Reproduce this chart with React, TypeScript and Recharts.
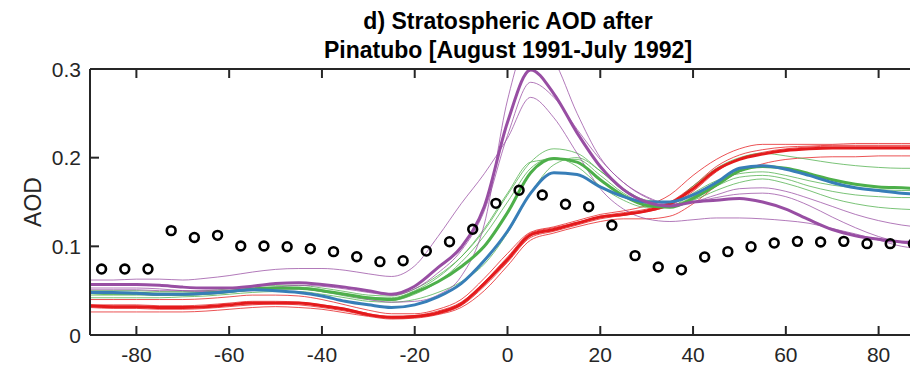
import React from "react"
import { ComposedChart, Line, Scatter, XAxis, YAxis } from "recharts"

// latitude grid of the model curves (deg)
const lats = [-90, -85, -80, -75, -70, -65, -60, -55, -50, -45, -40, -35, -30, -25, -20, -15, -10, -5, 0, 5, 10, 15, 20, 25, 30, 35, 40, 45, 50, 55, 60, 65, 70, 75, 80, 85, 90]

// thick (mean) curves
const purpleMean = [0.057, 0.057, 0.057, 0.056, 0.054, 0.053, 0.053, 0.055, 0.058, 0.059, 0.057, 0.054, 0.05, 0.046, 0.055, 0.076, 0.099, 0.145, 0.24, 0.299, 0.272, 0.228, 0.19, 0.164, 0.15, 0.1455, 0.15, 0.152, 0.154, 0.15, 0.142, 0.13, 0.119, 0.112, 0.108, 0.105, 0.104]
const greenMean = [0.048, 0.047, 0.047, 0.046, 0.046, 0.047, 0.049, 0.052, 0.053, 0.0527, 0.05, 0.046, 0.042, 0.04, 0.048, 0.06, 0.077, 0.1, 0.138, 0.183, 0.199, 0.195, 0.175, 0.157, 0.146, 0.144, 0.154, 0.169, 0.185, 0.19, 0.188, 0.182, 0.175, 0.17, 0.167, 0.166, 0.165]
const blueMean = [0.048, 0.048, 0.047, 0.046, 0.046, 0.047, 0.049, 0.051, 0.05, 0.048, 0.044, 0.038, 0.034, 0.031, 0.034, 0.043, 0.058, 0.084, 0.117, 0.16, 0.183, 0.181, 0.167, 0.156, 0.15, 0.15, 0.158, 0.172, 0.188, 0.191, 0.187, 0.18, 0.172, 0.166, 0.163, 0.16, 0.158]
const redMean = [0.033, 0.032, 0.032, 0.031, 0.031, 0.032, 0.034, 0.036, 0.036, 0.036, 0.033, 0.029, 0.023, 0.02, 0.021, 0.025, 0.035, 0.058, 0.085, 0.113, 0.119, 0.126, 0.133, 0.136, 0.14, 0.148, 0.165, 0.186, 0.198, 0.204, 0.208, 0.21, 0.211, 0.211, 0.211, 0.211, 0.211]

// thin (member) curves
const purpleA = [0.062, 0.062, 0.063, 0.063, 0.062, 0.064, 0.067, 0.071, 0.074, 0.075, 0.075, 0.073, 0.069, 0.066, 0.078, 0.111, 0.148, 0.182, 0.222, 0.268, 0.245, 0.205, 0.165, 0.142, 0.131, 0.128, 0.13, 0.132, 0.132, 0.131, 0.129, 0.126, 0.12, 0.114, 0.107, 0.1, 0.097]
const purpleB = [0.053, 0.053, 0.053, 0.052, 0.05, 0.049, 0.049, 0.05, 0.052, 0.052, 0.049, 0.045, 0.04, 0.037, 0.038, 0.045, 0.066, 0.125, 0.265, 0.335, 0.31, 0.25, 0.2, 0.172, 0.155, 0.147, 0.15, 0.158, 0.165, 0.166, 0.162, 0.154, 0.145, 0.136, 0.129, 0.124, 0.121]
const purpleC = [0.051, 0.051, 0.051, 0.05, 0.05, 0.05, 0.05, 0.052, 0.054, 0.056, 0.055, 0.052, 0.048, 0.045, 0.052, 0.07, 0.095, 0.14, 0.225, 0.285, 0.268, 0.232, 0.198, 0.172, 0.156, 0.148, 0.15, 0.155, 0.159, 0.16, 0.156, 0.146, 0.133, 0.121, 0.111, 0.104, 0.1]
const greenA = [0.05, 0.05, 0.05, 0.049, 0.049, 0.05, 0.052, 0.055, 0.056, 0.056, 0.053, 0.049, 0.045, 0.044, 0.052, 0.067, 0.088, 0.118, 0.158, 0.195, 0.21, 0.205, 0.185, 0.165, 0.152, 0.15, 0.168, 0.188, 0.2, 0.205, 0.202, 0.198, 0.194, 0.191, 0.189, 0.188, 0.188]
const greenB = [0.045, 0.045, 0.045, 0.045, 0.045, 0.046, 0.048, 0.051, 0.052, 0.052, 0.049, 0.044, 0.04, 0.039, 0.046, 0.06, 0.082, 0.112, 0.15, 0.188, 0.2, 0.19, 0.168, 0.152, 0.144, 0.145, 0.16, 0.174, 0.182, 0.184, 0.18, 0.174, 0.169, 0.166, 0.164, 0.163, 0.163]
const greenC = [0.042, 0.042, 0.042, 0.042, 0.043, 0.044, 0.046, 0.048, 0.049, 0.049, 0.046, 0.042, 0.038, 0.037, 0.04, 0.048, 0.06, 0.08, 0.115, 0.16, 0.192, 0.2, 0.185, 0.163, 0.15, 0.146, 0.152, 0.163, 0.172, 0.176, 0.171, 0.163, 0.154, 0.148, 0.144, 0.142, 0.141]
const greenD = [0.047, 0.047, 0.047, 0.047, 0.047, 0.048, 0.05, 0.053, 0.054, 0.054, 0.051, 0.046, 0.042, 0.042, 0.05, 0.065, 0.088, 0.12, 0.16, 0.195, 0.198, 0.198, 0.18, 0.16, 0.148, 0.146, 0.156, 0.168, 0.178, 0.18, 0.176, 0.168, 0.162, 0.158, 0.156, 0.155, 0.155]
const redA = [0.04, 0.04, 0.04, 0.04, 0.04, 0.041, 0.043, 0.045, 0.045, 0.044, 0.04, 0.034, 0.028, 0.024, 0.024, 0.029, 0.04, 0.064, 0.092, 0.116, 0.122, 0.129, 0.136, 0.14, 0.146, 0.158, 0.18, 0.198, 0.21, 0.215, 0.215, 0.215, 0.215, 0.216, 0.216, 0.216, 0.216]
const redB = [0.031, 0.03, 0.03, 0.029, 0.029, 0.03, 0.032, 0.034, 0.035, 0.034, 0.031, 0.027, 0.022, 0.019, 0.02, 0.024, 0.033, 0.055, 0.082, 0.11, 0.117, 0.124, 0.131, 0.135, 0.139, 0.146, 0.162, 0.184, 0.199, 0.206, 0.21, 0.212, 0.213, 0.213, 0.213, 0.213, 0.213]
const redC = [0.026, 0.026, 0.026, 0.026, 0.026, 0.027, 0.029, 0.031, 0.032, 0.031, 0.029, 0.025, 0.021, 0.018, 0.019, 0.023, 0.031, 0.05, 0.078, 0.107, 0.115, 0.122, 0.128, 0.131, 0.131, 0.134, 0.148, 0.168, 0.184, 0.193, 0.198, 0.2, 0.201, 0.201, 0.202, 0.202, 0.202]
const redD = [0.034, 0.034, 0.034, 0.033, 0.033, 0.034, 0.036, 0.038, 0.038, 0.037, 0.034, 0.03, 0.024, 0.021, 0.022, 0.027, 0.037, 0.06, 0.088, 0.115, 0.121, 0.127, 0.134, 0.138, 0.142, 0.15, 0.168, 0.19, 0.203, 0.209, 0.212, 0.213, 0.214, 0.214, 0.214, 0.214, 0.214]

// observations (open circles)
const obsLats = [-87.5, -82.5, -77.5, -72.5, -67.5, -62.5, -57.5, -52.5, -47.5, -42.5, -37.5, -32.5, -27.5, -22.5, -17.5, -12.5, -7.5, -2.5, 2.5, 7.5, 12.5, 17.5, 22.5, 27.5, 32.5, 37.5, 42.5, 47.5, 52.5, 57.5, 62.5, 67.5, 72.5, 77.5, 82.5, 87.5]
const obsAod = [0.0744, 0.0744, 0.0744, 0.1177, 0.11, 0.1124, 0.1004, 0.1004, 0.0996, 0.0973, 0.094, 0.0883, 0.0827, 0.0838, 0.0947, 0.1052, 0.1192, 0.1485, 0.1632, 0.1579, 0.1474, 0.1447, 0.1237, 0.0895, 0.0767, 0.0735, 0.088, 0.094, 0.0996, 0.1037, 0.1056, 0.1049, 0.1056, 0.103, 0.103, 0.103]

const xTicks = [-80, -60, -40, -20, 0, 20, 40, 60, 80]
const yTicks = [0, 0.1, 0.2, 0.3]

const series: Record<string, number[]> = {
  purpleMean, greenMean, blueMean, redMean,
  purpleA, purpleB, purpleC, greenA, greenB, greenC, greenD, redA, redB, redC, redD,
}

const rows = lats.map((lat, i) => {
  const r: Record<string, number> = { lat }
  Object.keys(series).forEach((k) => (r[k] = series[k][i]))
  return r
})
const obsRows = obsLats.map((lat, i) => ({ lat, aod: obsAod[i] }))

const AXIS = "#262626"
const FONT = "'Liberation Sans', Arial, Helvetica, sans-serif"
const RED = "#E41A1C"
const GREEN = "#4DAF4A"
const BLUE = "#377EB8"
const PURPLE = "#984EA3"

const thin = [
  { key: "redA", color: RED }, { key: "redB", color: RED }, { key: "redC", color: RED }, { key: "redD", color: RED },
  { key: "greenA", color: GREEN }, { key: "greenB", color: GREEN }, { key: "greenC", color: GREEN }, { key: "greenD", color: GREEN },
  { key: "purpleA", color: PURPLE }, { key: "purpleB", color: PURPLE }, { key: "purpleC", color: PURPLE },
]
const thick = [
  { key: "redMean", color: RED },
  { key: "greenMean", color: GREEN },
  { key: "blueMean", color: BLUE },
  { key: "purpleMean", color: PURPLE },
]

const BottomTick = (props: any) => {
  const { x, y, payload } = props
  return (
    <g>
      <line x1={x} x2={x} y1={y} y2={y - 9} stroke={AXIS} strokeWidth={2} />
      <text x={x} y={y + 27} textAnchor="middle" fontSize={21} fontFamily={FONT} fill={AXIS}>
        {payload.value}
      </text>
    </g>
  )
}

const TopTick = (props: any) => {
  const { x, y } = props
  return <line x1={x} x2={x} y1={y} y2={y + 9} stroke={AXIS} strokeWidth={2} />
}

const LeftTick = (props: any) => {
  const { x, y, payload } = props
  return (
    <g>
      <line x1={x} x2={x + 9} y1={y} y2={y} stroke={AXIS} strokeWidth={2} />
      <text x={x - 9} y={y + 7.5} textAnchor="end" fontSize={21} fontFamily={FONT} fill={AXIS}>
        {payload.value}
      </text>
    </g>
  )
}

const Ring = (props: any) => (
  <circle cx={props.cx} cy={props.cy} r={4.4} fill="none" stroke="#000" strokeWidth={2.6} />
)

export default function App() {
  return (
    <div style={{ position: "absolute", left: 0, top: 0, width: 910, height: 367, overflow: "hidden", background: "#fff" }}>
      <ComposedChart
        width={940}
        height={367}
        data={rows}
        margin={{ top: 59, right: 15, bottom: 2, left: 30 }}
      >
        <XAxis
          dataKey="lat"
          type="number"
          domain={[-90, 90]}
          ticks={xTicks}
          interval={0}
          allowDataOverflow
          height={30}
          tickSize={0}
          tickMargin={0}
          tickLine={false}
          tick={<BottomTick />}
          axisLine={{ stroke: AXIS, strokeWidth: 2 }}
        />
        <XAxis
          xAxisId="top"
          orientation="top"
          dataKey="lat"
          type="number"
          domain={[-90, 90]}
          ticks={xTicks}
          interval={0}
          allowDataOverflow
          height={10}
          tickSize={0}
          tickMargin={0}
          tickLine={false}
          tick={<TopTick />}
          axisLine={{ stroke: AXIS, strokeWidth: 2 }}
        />
        <YAxis
          type="number"
          domain={[0, 0.3]}
          ticks={yTicks}
          interval={0}
          allowDataOverflow
          width={60}
          tickSize={0}
          tickMargin={0}
          tickLine={false}
          tick={<LeftTick />}
          axisLine={{ stroke: AXIS, strokeWidth: 2 }}
        />
        {thin.map((s) => (
          <Line
            key={s.key}
            type="monotone"
            dataKey={s.key}
            stroke={s.color}
            strokeWidth={1}
            strokeOpacity={0.75}
            dot={false}
            activeDot={false}
            isAnimationActive={false}
          />
        ))}
        {thick.map((s) => (
          <Line
            key={s.key}
            type="monotone"
            dataKey={s.key}
            stroke={s.color}
            strokeWidth={3}
            dot={false}
            activeDot={false}
            isAnimationActive={false}
          />
        ))}
        <Scatter data={obsRows} dataKey="aod" shape={<Ring />} isAnimationActive={false} />
      </ComposedChart>
      <svg width={910} height={367} style={{ position: "absolute", left: 0, top: 0, pointerEvents: "none" }}>
        <g fontFamily={FONT} fill="#000" fontWeight="bold" fontSize={23} textAnchor="middle">
          <text x={508} y={29}>d) Stratospheric AOD after</text>
          <text x={508} y={58}>Pinatubo [August 1991-July 1992]</text>
        </g>
        <text
          transform="translate(40.5,202) rotate(-90)"
          textAnchor="middle"
          fontFamily={FONT}
          fontSize={23}
          fill={AXIS}
        >
          AOD
        </text>
      </svg>
    </div>
  )
}
